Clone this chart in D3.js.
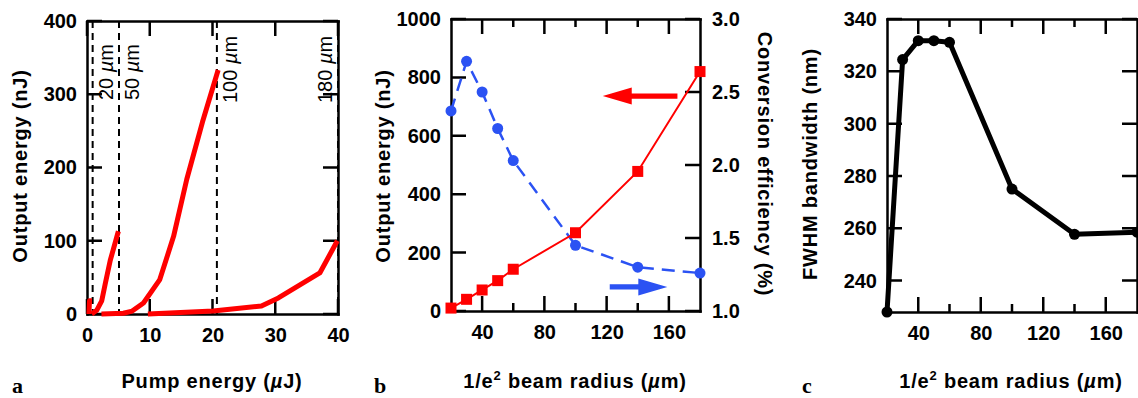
<!DOCTYPE html>
<html>
<head>
<meta charset="utf-8">
<script src="https://cdn.jsdelivr.net/npm/d3@7"></script>
<style>
  body { margin: 0; background: #fff; }
  svg { display: block; font-family: "Liberation Sans", Arial, Helvetica, sans-serif; }
</style>
</head>
<body>
<script>
// panel a: output energy vs pump energy, one curve per beam radius
const pump20 = [0.3, 0.4, 0.8];
const out20 = [0, 18, 18];
const pump50 = [0.75, 1.55, 2.35, 2.9, 3.7, 5.0];
const out50 = [0, 5, 18, 41, 73, 113];
const pump100 = [2.3, 5.8, 7.2, 9.0, 11.6, 13.8, 15.9, 18.4, 20.9];
const out100 = [0, 1, 4, 15, 47, 106, 184, 262, 333];
const pump180 = [9.7, 20.1, 27.8, 30.5, 37.1, 39.9];
const out180 = [0, 4, 11, 22, 56, 100];
const cutoffPump = [0.9, 5.1, 20.7, 40];
const cutoffLabels = ["20", "50", "100", "180"];
const aXTicks = [0, 10, 20, 30, 40];
const aYTicks = [0, 100, 200, 300, 400];

// panels b and c: against 1/e^2 beam radius
const radius = [20, 30, 40, 50, 60, 100, 140, 180];
const outputEnergy = [10, 40, 72, 104, 143, 268, 478, 820];
const efficiency = [2.37, 2.71, 2.50, 2.25, 2.03, 1.45, 1.30, 1.26];
const fwhm = [228, 324.5, 331.7, 331.7, 331.1, 275, 257.7, 258.5];
const rTicks = [40, 80, 120, 160];
const rMinor = [60, 100, 140];
const bYTicks = [0, 200, 400, 600, 800, 1000];
const bY2Ticks = [1.0, 1.5, 2.0, 2.5, 3.0];
const cYTicks = [240, 260, 280, 300, 320, 340];

const W = 1138, H = 398;
const svg = d3.select("body").append("svg").attr("width", W).attr("height", H);
svg.append("rect").attr("width", W).attr("height", H).attr("fill", "#fff");
const axisLayer = svg.append("g");
const marks = svg.append("g");

const FONT = '"Liberation Sans", Arial, Helvetica, sans-serif';
const RED = "#ff0000", BLUE = "#2b52f3";

function styleAxis(g, labels) {
  g.attr("font-size", 20).attr("font-family", FONT).attr("font-weight", "bold");
  g.select(".domain").attr("stroke", "#000").attr("stroke-width", 2.5).attr("stroke-linecap", "square");
  g.selectAll(".tick text").attr("fill", "#000");
  if (!labels) g.selectAll(".tick text").remove();
  return g;
}

// inward tick marks as one path, positions taken from the scale
function tickMarks(vals, pos, len, vertical, at, dir) {
  const d = vals.map(v => vertical
    ? `M${pos(v)},${at}V${at + dir * len}`
    : `M${at},${pos(v)}H${at + dir * len}`).join("");
  axisLayer.append("path").attr("d", d)
    .attr("fill", "none").attr("stroke", "#000").attr("stroke-width", 2.5);
}

// draws a boxed frame with inward ticks on all sides
function frame(x, y, o) {
  const [x0, x1] = x.range(), [y0, y1] = y.range();
  const major = 15, minor = 8;
  const fmt = d3.format("d");
  const y2 = o.y2 || y;

  tickMarks(o.xTicks, x, major, true, y0, -1);
  tickMarks(o.xTicks, x, major, true, y1, 1);
  if (o.xMinor) {
    tickMarks(o.xMinor, x, minor, true, y0, -1);
    tickMarks(o.xMinor, x, minor, true, y1, 1);
  }
  tickMarks(o.yTicks, y, major, false, x0, 1);
  tickMarks(o.y2Ticks || o.yTicks, y2, major, false, x1, -1);

  axisLayer.append("g").attr("transform", `translate(0,${y0})`)
    .call(d3.axisBottom(x).tickValues(o.xTicks).tickSize(0).tickPadding(14).tickFormat(fmt))
    .call(g => styleAxis(g, true));
  axisLayer.append("g").attr("transform", `translate(0,${y1})`)
    .call(d3.axisTop(x).tickValues(o.xTicks).tickSize(0))
    .call(g => styleAxis(g, false));
  axisLayer.append("g").attr("transform", `translate(${x0},0)`)
    .call(d3.axisLeft(y).tickValues(o.yTicks).tickSize(0).tickPadding(10).tickFormat(fmt))
    .call(g => styleAxis(g, true));
  axisLayer.append("g").attr("transform", `translate(${x1},0)`)
    .call(d3.axisRight(y2).tickValues(o.y2Ticks || o.yTicks).tickSize(0)
      .tickPadding(12).tickFormat(o.y2Format || fmt))
    .call(g => styleAxis(g, !!o.y2));
}

function yTitle(x, yc, text, rot) {
  svg.append("text")
    .attr("transform", `translate(${x},${yc}) rotate(${rot})`)
    .attr("text-anchor", "middle")
    .attr("font-size", 20).attr("font-weight", "bold").attr("letter-spacing", 0.8)
    .text(text);
}

function xTitle(xc, parts) {
  const t = svg.append("text").attr("x", xc).attr("y", 388)
    .attr("text-anchor", "middle")
    .attr("font-size", 20).attr("font-weight", "bold").attr("letter-spacing", 0.8);
  parts(t);
}

function panelLetter(x, s) {
  svg.append("text").attr("x", x).attr("y", 393)
    .attr("font-family", '"Liberation Serif", "Times New Roman", serif')
    .attr("font-size", 22).attr("font-weight", "bold").text(s);
}

function radiusTitle(t) {
  t.append("tspan").text("1/e");
  t.append("tspan").attr("font-size", 13).attr("dy", -8).text("2");
  t.append("tspan").attr("dy", 8).text(" beam radius (");
  t.append("tspan").attr("font-style", "italic").text("\u00b5");
  t.append("tspan").text("m)");
}

// ---------- panel a ----------
const xa = d3.scaleLinear().domain([0, 40]).range([87, 338]);
const ya = d3.scaleLinear().domain([0, 400]).range([314, 21]);

frame(xa, ya, { xTicks: aXTicks, yTicks: aYTicks });

axisLayer.append("g").selectAll("line")
  .data(cutoffPump)
  .join("line")
  .attr("x1", d => xa(d)).attr("x2", d => xa(d))
  .attr("y1", ya(400)).attr("y2", ya(0))
  .attr("stroke", "#000").attr("stroke-width", 2).attr("stroke-dasharray", "7,5");

const curvesA = [[pump20, out20], [pump50, out50], [pump100, out100], [pump180, out180]];
const lineA = d3.line().x(d => xa(d[0])).y(d => ya(d[1]));
marks.append("g").selectAll("path")
  .data(curvesA.map(([p, o]) => p.map((v, i) => [v, o[i]])))
  .join("path")
  .attr("d", lineA)
  .attr("fill", "none").attr("stroke", RED).attr("stroke-width", 5)
  .attr("stroke-linejoin", "round");

const cut = svg.append("g").selectAll("text")
  .data(cutoffPump.map((p, i) => ({ p, lab: cutoffLabels[i], last: i === cutoffPump.length - 1 })))
  .join("text")
  .attr("transform", d => `translate(${xa(d.p) + (d.last ? -6 : 20)},${d.lab.length > 2 ? 103 : 100}) rotate(-90)`)
  .attr("font-size", 20);
cut.append("tspan").text(d => d.lab + " ");
cut.append("tspan").attr("font-style", "italic").text("\u00b5");
cut.append("tspan").text("m");

yTitle(27, 166, "Output energy (nJ)", -90);
xTitle(212, t => {
  t.append("tspan").text("Pump energy (");
  t.append("tspan").attr("font-style", "italic").text("\u00b5");
  t.append("tspan").text("J)");
});
panelLetter(12, "a");

// ---------- panel b ----------
const xb = d3.scaleLinear().domain([20, 180]).range([451, 700]);
const yb = d3.scaleLinear().domain([0, 1000]).range([311, 19]);
const yb2 = d3.scaleLinear().domain([1, 3]).range([311, 19]);

frame(xb, yb, {
  xTicks: rTicks, xMinor: rMinor, yTicks: bYTicks,
  y2: yb2, y2Ticks: bY2Ticks, y2Format: d3.format(".1f")
});

marks.append("path")
  .datum(radius.map((r, i) => [r, efficiency[i]]))
  .attr("d", d3.line().x(d => xb(d[0])).y(d => yb2(d[1])))
  .attr("fill", "none").attr("stroke", BLUE).attr("stroke-width", 2.5)
  .attr("stroke-dasharray", "13,8");
marks.append("g").selectAll("circle")
  .data(radius.map((r, i) => [r, efficiency[i]]))
  .join("circle")
  .attr("cx", d => xb(d[0])).attr("cy", d => yb2(d[1])).attr("r", 5.5)
  .attr("fill", BLUE);

marks.append("path")
  .datum(radius.map((r, i) => [r, outputEnergy[i]]))
  .attr("d", d3.line().x(d => xb(d[0])).y(d => yb(d[1])))
  .attr("fill", "none").attr("stroke", RED).attr("stroke-width", 2);
marks.append("g").selectAll("rect")
  .data(radius.map((r, i) => [r, outputEnergy[i]]))
  .join("rect")
  .attr("x", d => xb(d[0]) - 5.5).attr("y", d => yb(d[1]) - 5.5)
  .attr("width", 11).attr("height", 11)
  .attr("fill", RED);

// arrows telling which axis each series belongs to
function arrow(x0, x1, y, color) {
  const dir = Math.sign(x1 - x0), head = 29, hw = 8.5, sw = 2.6;
  const xb0 = x1 - dir * head;
  marks.append("path")
    .attr("d", `M${x0},${y - sw}L${xb0},${y - sw}L${xb0},${y - hw}L${x1},${y}L${xb0},${y + hw}L${xb0},${y + sw}L${x0},${y + sw}Z`)
    .attr("fill", color);
}
arrow(xb(165.5), xb(117.5), yb(736), RED);
arrow(xb(122), xb(159), yb2(1.165), BLUE);

yTitle(390, 166, "Output energy (nJ)", -90);
yTitle(758, 164, "Conversion efficiency (%)", 90);
xTitle(575, radiusTitle);
panelLetter(374, "b");

// ---------- panel c ----------
const xc = d3.scaleLinear().domain([20, 180]).range([887, 1137]);
const yc = d3.scaleLinear().domain([228, 340]).range([312, 19]);

frame(xc, yc, { xTicks: rTicks, xMinor: rMinor, yTicks: cYTicks });

marks.append("path")
  .datum(radius.map((r, i) => [r, fwhm[i]]))
  .attr("d", d3.line().x(d => xc(d[0])).y(d => yc(d[1])))
  .attr("fill", "none").attr("stroke", "#000").attr("stroke-width", 5)
  .attr("stroke-linejoin", "round");
marks.append("g").selectAll("circle")
  .data(radius.map((r, i) => [r, fwhm[i]]))
  .join("circle")
  .attr("cx", d => xc(d[0])).attr("cy", d => yc(d[1])).attr("r", 5.5)
  .attr("fill", "#000");

yTitle(817, 164, "FWHM bandwidth (nm)", -90);
xTitle(1011, radiusTitle);
panelLetter(802, "c");
</script>
</body>
</html>
